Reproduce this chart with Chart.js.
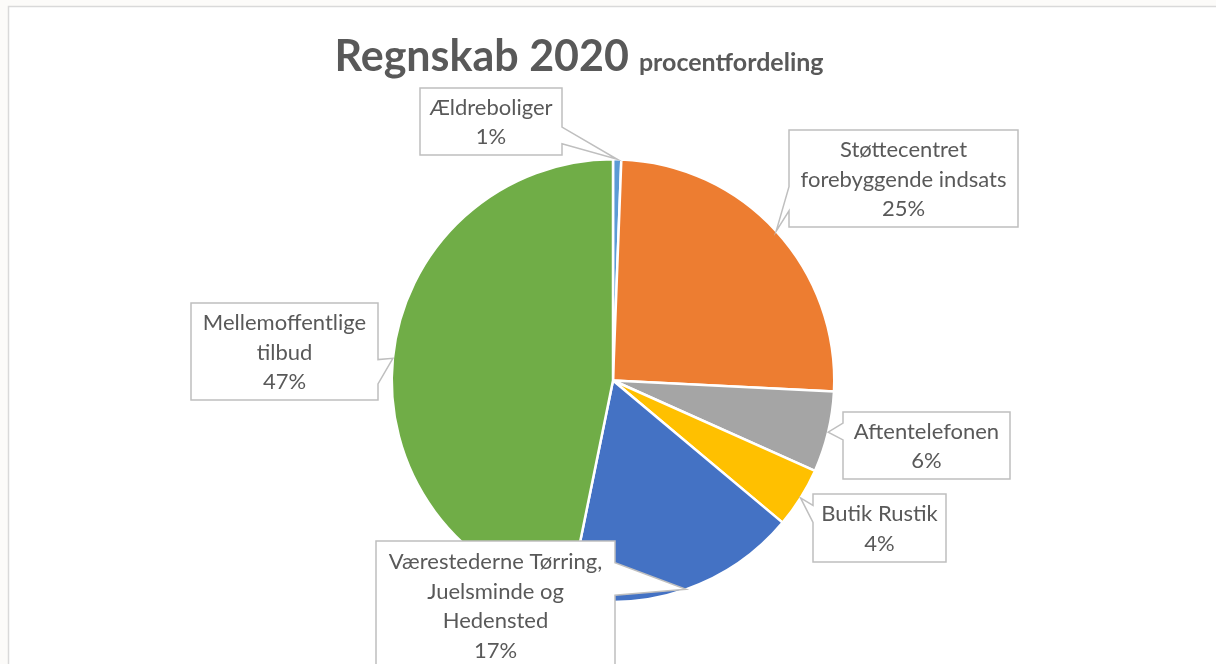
<!DOCTYPE html>
<html>
<head>
<meta charset="utf-8">
<script src="https://cdn.jsdelivr.net/npm/chart.js@4.4.1/dist/chart.umd.min.js"></script>
<style>
  html, body { margin: 0; padding: 0; background: #fcfbf9; }
  #wrap { width: 1216px; height: 664px; position: relative; }
</style>
</head>
<body>
<div id="wrap"><canvas id="c" width="1216" height="664"></canvas></div>
<script>
// ---- data ----
const categories = [
  ["Ældreboliger"],
  ["Støttecentret", "forebyggende indsats"],
  ["Aftentelefonen"],
  ["Butik Rustik"],
  ["Værestederne Tørring,", "Juelsminde og", "Hedensted"],
  ["Mellemoffentlige", "tilbud"]
];
const shares = [0.6, 25.2, 5.9, 4.4, 17.1, 46.8];
const sliceColors = ["#5B9BD5", "#ED7D31", "#A5A5A5", "#FFC000", "#4472C4", "#70AD47"];
const titleMain = "Regnskab 2020";
const titleSub = "procentfordeling";

// ---- layout of callout boxes (left, top, width, height in px) ----
const calloutBoxes = [
  { x: 420, y: 88,  w: 142, h: 67 },
  { x: 789, y: 130, w: 229, h: 97 },
  { x: 843, y: 412, w: 167, h: 67 },
  { x: 813, y: 494, w: 133, h: 68 },
  { x: 376, y: 541, w: 239, h: 130 },
  { x: 191, y: 303, w: 187, h: 97 }
];

const TEXT = "#595959";
const FONT = "Lato, Carlito, Calibri, 'Open Sans', sans-serif";

function calloutPath(ctx, b, tx, ty) {
  const cx = b.x + b.w / 2, cy = b.y + b.h / 2;
  const dx = tx - cx, dy = ty - cy;
  const l = b.x, r = b.x + b.w, t = b.y, bt = b.y + b.h;
  const inside = tx >= l && tx <= r && ty >= t && ty <= bt;
  ctx.beginPath();
  if (inside) { ctx.rect(l, t, b.w, b.h); return; }
  ctx.moveTo(l, t);
  const horiz = Math.abs(dx) * b.h > Math.abs(dy) * b.w;
  if (!horiz && dy < 0) {
    const a = dx < 0 ? b.w * 2 / 12 : b.w * 7 / 12;
    ctx.lineTo(l + a, t); ctx.lineTo(tx, ty); ctx.lineTo(l + a + b.w * 3 / 12, t);
  }
  ctx.lineTo(r, t);
  if (horiz && dx > 0) {
    const a = dy < 0 ? b.h * 2 / 12 : b.h * 7 / 12;
    ctx.lineTo(r, t + a); ctx.lineTo(tx, ty); ctx.lineTo(r, t + a + b.h * 3 / 12);
  }
  ctx.lineTo(r, bt);
  if (!horiz && dy > 0) {
    const a = dx < 0 ? b.w * 2 / 12 : b.w * 7 / 12;
    ctx.lineTo(l + a + b.w * 3 / 12, bt); ctx.lineTo(tx, ty); ctx.lineTo(l + a, bt);
  }
  ctx.lineTo(l, bt);
  if (horiz && dx < 0) {
    const a = dy < 0 ? b.h * 2 / 12 : b.h * 7 / 12;
    ctx.lineTo(l, t + a + b.h * 3 / 12); ctx.lineTo(tx, ty); ctx.lineTo(l, t + a);
  }
  ctx.closePath();
}

const framePlugin = {
  id: 'frame',
  beforeDraw(chart) {
    const ctx = chart.ctx;
    ctx.save();
    ctx.fillStyle = "#fcfbf9";
    ctx.fillRect(0, 0, chart.width, chart.height);
    ctx.fillStyle = "#ffffff";
    ctx.fillRect(8, 6, chart.width, chart.height);
    ctx.strokeStyle = "#d9d9d9";
    ctx.lineWidth = 1.5;
    ctx.strokeRect(8.5, 6.5, chart.width + 10, chart.height + 10);
    ctx.restore();
  },
  afterDraw(chart) {
    const ctx = chart.ctx;
    ctx.save();
    // title
    ctx.fillStyle = TEXT;
    ctx.textBaseline = "alphabetic";
    const f1 = "bold 43px " + FONT, f2 = "bold 25px " + FONT;
    ctx.font = f1;
    const w1 = ctx.measureText(titleMain).width;
    ctx.font = f2;
    const w2 = ctx.measureText(titleSub).width;
    const gap = 10;
    const x0 = 579 - (w1 + gap + w2) / 2;
    ctx.font = f1;
    ctx.fillText(titleMain, x0, 71);
    ctx.font = f2;
    ctx.fillText(titleSub, x0 + w1 + gap, 71);

    // callouts
    const meta = chart.getDatasetMeta(0);
    const total = shares.reduce((a, b) => a + b, 0);
    meta.data.forEach((arc, i) => {
      const p = arc.getProps(['x', 'y', 'startAngle', 'endAngle', 'outerRadius'], true);
      const mid = (p.startAngle + p.endAngle) / 2;
      const tx = p.x + p.outerRadius * Math.cos(mid);
      const ty = p.y + p.outerRadius * Math.sin(mid);
      const b = calloutBoxes[i];
      calloutPath(ctx, b, tx, ty);
      ctx.fillStyle = "#ffffff";
      ctx.fill();
      ctx.strokeStyle = "#bfbfbf";
      ctx.lineWidth = 1.5;
      ctx.stroke();
      const lines = categories[i].concat([Math.round(shares[i] / total * 100) + "%"]);
      const lh = 29.5;
      ctx.fillStyle = TEXT;
      ctx.font = "22px " + FONT;
      ctx.textAlign = "center";
      ctx.textBaseline = "middle";
      const firstY = b.y + b.h / 2 - (lines.length - 1) * lh / 2;
      const startY = b.h > 100 ? b.y + 20 : firstY;
      lines.forEach((s, k) => ctx.fillText(s, b.x + b.w / 2, startY + k * lh + 1));
    });
    ctx.restore();
  }
};

new Chart(document.getElementById('c'), {
  type: 'pie',
  data: {
    labels: categories,
    datasets: [{
      data: shares,
      backgroundColor: sliceColors,
      borderColor: "#ffffff",
      borderWidth: 2.5
    }]
  },
  options: {
    responsive: false,
    animation: false,
    layout: { padding: { top: 158, bottom: 61, left: 10, right: 0 } },
    plugins: {
      legend: { display: false },
      tooltip: { enabled: false },
      title: { display: false }
    }
  },
  plugins: [framePlugin]
});
</script>
</body>
</html>
